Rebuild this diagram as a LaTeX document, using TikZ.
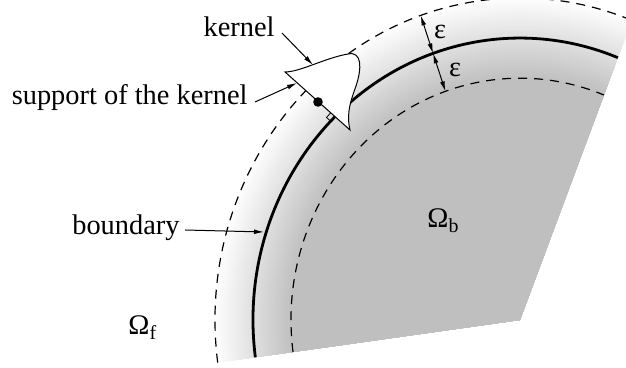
\documentclass[tikz,border=0pt]{standalone}
\usepackage{fontspec}
\setmainfont{Liberation Serif}
\usetikzlibrary{arrows.meta}

\begin{document}
\begin{tikzpicture}[x=0.5pt,y=0.5pt,>={Latex[length=5pt,width=2.4pt]},
  font=\fontsize{14.2}{17}\selectfont,
  bnd/.style={line width=1.4pt},
  band/.style={dash pattern=on 4.5pt off 3.5pt,line width=0.6pt},
  lbl/.style={inner sep=1pt},
  ptr/.style={->,line width=0.5pt}]
  \useasboundingbox (0,0) rectangle (626,368);
  \clip (0,0) rectangle (626,368);
  % body sector with the shaded band
  \begin{scope}[shift={(520,48)},yscale=1.056]
    \foreach \r in {307,305,...,229}{
      \pgfmathsetmacro\g{25*(307-\r)/78}
      \fill[black!\g] (0,0) -- (68.5:\r) arc[start angle=68.5,end angle=187.6,radius=\r] -- cycle;
    }
    \draw[band] (187.6:305) arc[start angle=187.6,end angle=68.5,radius=305];
    \draw[band] (187.6:229) arc[start angle=187.6,end angle=68.5,radius=229];
    \draw[bnd] (187.6:267) arc[start angle=187.6,end angle=68.5,radius=267];
    \coordinate (e0) at (109:305);
    \coordinate (e1) at (109:267);
    \coordinate (e2) at (109:229);
  \end{scope}
  % kernel
  \coordinate (kA) at (285,296);
  \coordinate (kB) at (350,238);
  \coordinate (kP) at (335,251);
  \coordinate (kD) at (318,266);
  \coordinate (kT) at (313,303);
  \coordinate (kS) at (297,285);
  \draw[fill=white,line width=0.5pt] (kA) .. controls (300,296) and (325,310) .. (348,314)
    .. controls (362,317) and (362,300) .. (356,282)
    .. controls (351,268) and (346,255) .. (kB) -- cycle;
  \draw[line width=0.4pt] (kP) ++(-4.5,4) -- ++(-4,-4.5) -- ++(4.5,-4);
  \fill (kD) circle[radius=4.8];
  % labels
  \node[lbl,anchor=base east] (kerlab) at (277,331) {kernel};
  \node[lbl,anchor=base east] (suplab) at (250,263) {support of the kernel};
  \node[lbl,anchor=base east] (bndlab) at (182,133) {boundary};
  \coordinate (bP) at (264,136);
  \draw[ptr] (kerlab.base east) ++(5,4) -- (kT);
  \draw[ptr] (suplab.base east) ++(5,3) -- (kS);
  \draw[ptr] (bndlab.base east) ++(3,5) -- (bP);
  \draw[<->,line width=0.5pt] (e0) -- (e1);
  \draw[<->,line width=0.5pt] (e1) -- (e2);
  \node[lbl] (eps1) at (440,336) {ε};
  \node[lbl] (eps2) at (455,298) {ε};
  \node[lbl,anchor=base west] (omf) at (126,33) {Ω\textsubscript{f}};
  \node[lbl,anchor=base west] (omb) at (425,140) {Ω\textsubscript{b}};
\end{tikzpicture}
\end{document}
